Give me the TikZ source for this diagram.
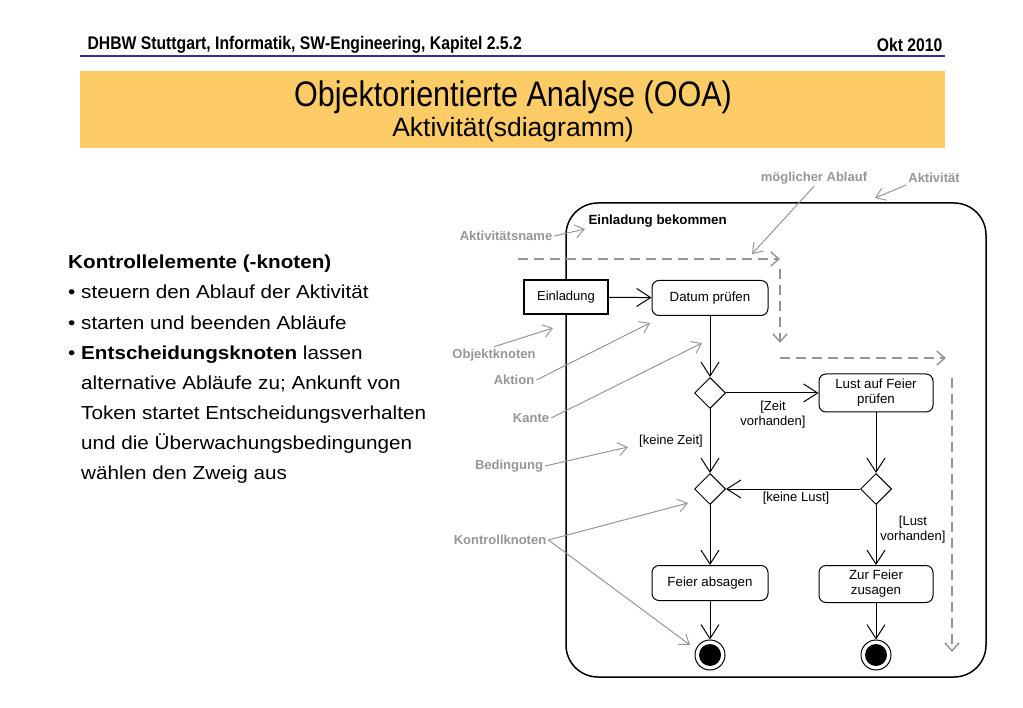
\documentclass[tikz,border=0pt]{standalone}
\usepackage{fontspec}
\setmainfont{Liberation Sans}
\newfontfamily\narrowfont[FakeStretch=0.86]{Liberation Sans}
\newfontfamily\widefont[FakeStretch=1.1]{Liberation Sans}
\usetikzlibrary{arrows.meta, shapes.geometric, positioning}

\definecolor{headblue}{RGB}{51,51,140}
\definecolor{titleorange}{RGB}{253,204,102}
\definecolor{notegray}{RGB}{150,150,150}

\tikzset{
	action/.style = {draw, rounded corners = 7pt, line width = 1pt, minimum width = 116pt, minimum height = 35pt, align = center, inner sep = 1pt, font = \fontsize{13.3}{15}\selectfont},
	objectbox/.style = {draw, line width = 1.6pt, minimum width = 84pt, minimum height = 34pt, font = \fontsize{13}{15}\selectfont},
	decision/.style = {draw, diamond, line width = 1pt, minimum size = 31pt, inner sep = 0pt},
	final/.style = {draw, circle, line width = 1pt, minimum size = 30pt, inner sep = 0pt,
		path picture = {\fill (path picture bounding box.center) circle [radius = 11pt];}},
	flow/.style = {line width = 1pt, -{Straight Barb[length = 14pt, width = 18pt, line width = 1pt]}},
	guard/.style = {align = center, inner sep = 1pt, font = \fontsize{13}{15}\selectfont},
	note/.style = {text = notegray, inner sep = 2pt, font = \bfseries\fontsize{13}{15}\selectfont},
	pointer/.style = {draw = notegray, line width = 1pt, -{Straight Barb[length = 9pt, width = 13pt, line width = 1pt]}},
	possible/.style = {draw = notegray, line width = 2pt, dash pattern = on 10pt off 6pt, -{Straight Barb[length = 8pt, width = 14pt, line width = 1.5pt]}}
}

\begin{document}
\begin{tikzpicture}[x = 1pt, y = -1pt]
	\useasboundingbox (0,0) rectangle (1023,708);
	
	% header
	\node [anchor = west, font = \narrowfont\bfseries\fontsize{18.3}{20}\selectfont] (head) at (84,45) {DHBW Stuttgart, Informatik, SW-Engineering, Kapitel 2.5.2};
	\node [anchor = east, font = \narrowfont\bfseries\fontsize{18.3}{20}\selectfont] (date) at (946,45) {Okt 2010};
	\draw [headblue, line width = 2.5pt] (80,56) -- (945,56);
	
	\fill [titleorange] (80,71) rectangle (945,148);
	\node [font = \narrowfont\fontsize{35.5}{40}\selectfont] (title) at (513,97) {Objektorientierte Analyse (OOA)};
	\node [font = \fontsize{26.5}{30}\selectfont] (subtitle) at (513,130) {Aktivität(sdiagramm)};
	
	% text
	\node [anchor = north west, align = left, inner sep = 0pt, font = \widefont\fontsize{18.8}{30.1}\selectfont] (text) at (68,255) {%
		\textbf{Kontrollelemente (-knoten)}\\
		\textbullet\ steuern den Ablauf der Aktivität\\
		\textbullet\ starten und beenden Abläufe\\
		\textbullet\ \textbf{Entscheidungsknoten} lassen\\
		\hphantom{\textbullet\ }alternative Abläufe zu; Ankunft von\\
		\hphantom{\textbullet\ }Token startet Entscheidungsverhalten\\
		\hphantom{\textbullet\ }und die Überwachungsbedingungen\\
		\hphantom{\textbullet\ }wählen den Zweig aus};
	
	% activity
	\draw [line width = 1.5pt, rounded corners = 32pt] (566,203) rectangle (986,677);
	\node [anchor = west, font = \bfseries\fontsize{13.3}{15}\selectfont] (actname) at (585,221) {Einladung bekommen};
	
	\node [objectbox, fill = white] (einl) at (566,297) {Einladung};
	\node [action] (datum) at (710,298) {Datum prüfen};
	\node [decision] (dec1) at (710,393) {};
	\node [action, minimum width = 114pt, minimum height = 38pt] (lust) at (876,393) {Lust auf Feier\\prüfen};
	\node [decision] (dec2) at (876,489) {};
	\node [decision] (merge) at (710,489) {};
	\node [action] (absagen) at (710,583) {Feier absagen};
	\node [action, minimum width = 114pt, minimum height = 37pt] (zusagen) at (876,584) {Zur Feier\\zusagen};
	\node [final] (end1) at (710,655) {};
	\node [final] (end2) at (876,655) {};
	
	\begin{scope}[flow]
		\draw (einl) -- (datum);
		\draw (datum) -- (dec1);
		\draw (dec1) -- (lust);
		\draw (dec1) -- (merge);
		\draw (lust) -- (dec2);
		\draw (dec2) -- (merge);
		\draw (merge) -- (absagen);
		\draw (dec2) -- (zusagen);
		\draw (absagen) -- (end1);
		\draw (zusagen) -- (end2);
	\end{scope}
	
	\node [guard] (gZeit) at (773,415) {[Zeit\\vorhanden]};
	\node [guard] (gKeineZeit) at (671,441) {[keine Zeit]};
	\node [guard] (gKeineLust) at (796,498) {[keine Lust]};
	\node [guard] (gLust) at (913,530) {[Lust\\vorhanden]};
	
	% possible flow
	\draw [possible] (518,259) -- (780,259);
	\draw [possible] (780,269) -- (780,343);
	\draw [possible] (780,358) -- (946,358);
	\draw [possible] (952,378) -- (952,652);
	
	% annotations
	\node [note] (nAblauf) at (814,178) {möglicher Ablauf};
	\node [note] (nAktiv) at (934,178) {Aktivität};
	\node [note] (nName) at (506,236) {Aktivitätsname};
	\node [note] (nObj) at (494,355) {Objektknoten};
	\node [note] (nAktion) at (514,380) {Aktion};
	\node [note] (nKante) at (531,418) {Kante};
	\node [note] (nBed) at (509,466) {Bedingung};
	\node [note] (nKontr) at (500,540) {Kontrollknoten};
	
	\coordinate (tAktiv) at (875,198);
	\coordinate (tAblauf) at (752,254);
	\coordinate (tName) at (585,229);
	\coordinate (tObj) at (553,328);
	\coordinate (tAktion) at (650,323);
	\coordinate (tKante) at (702,343);
	\coordinate (tBed) at (628,447);
	\coordinate (tMerge) at (688,503);
	\coordinate (tEnd) at (690,645);
	
	\begin{scope}[pointer]
		\draw (nAktiv.south west) -- (tAktiv);
		\draw (nAblauf.south) -- (tAblauf);
		\draw (nName.east) -- (tName);
		\draw (nObj.north) -- (tObj);
		\draw (nAktion.east) -- (tAktion);
		\draw (nKante.east) -- (tKante);
		\draw (nBed.east) -- (tBed);
		\draw (nKontr.east) -- (tMerge);
		\draw (nKontr.east) -- (tEnd);
	\end{scope}
\end{tikzpicture}
\end{document}
